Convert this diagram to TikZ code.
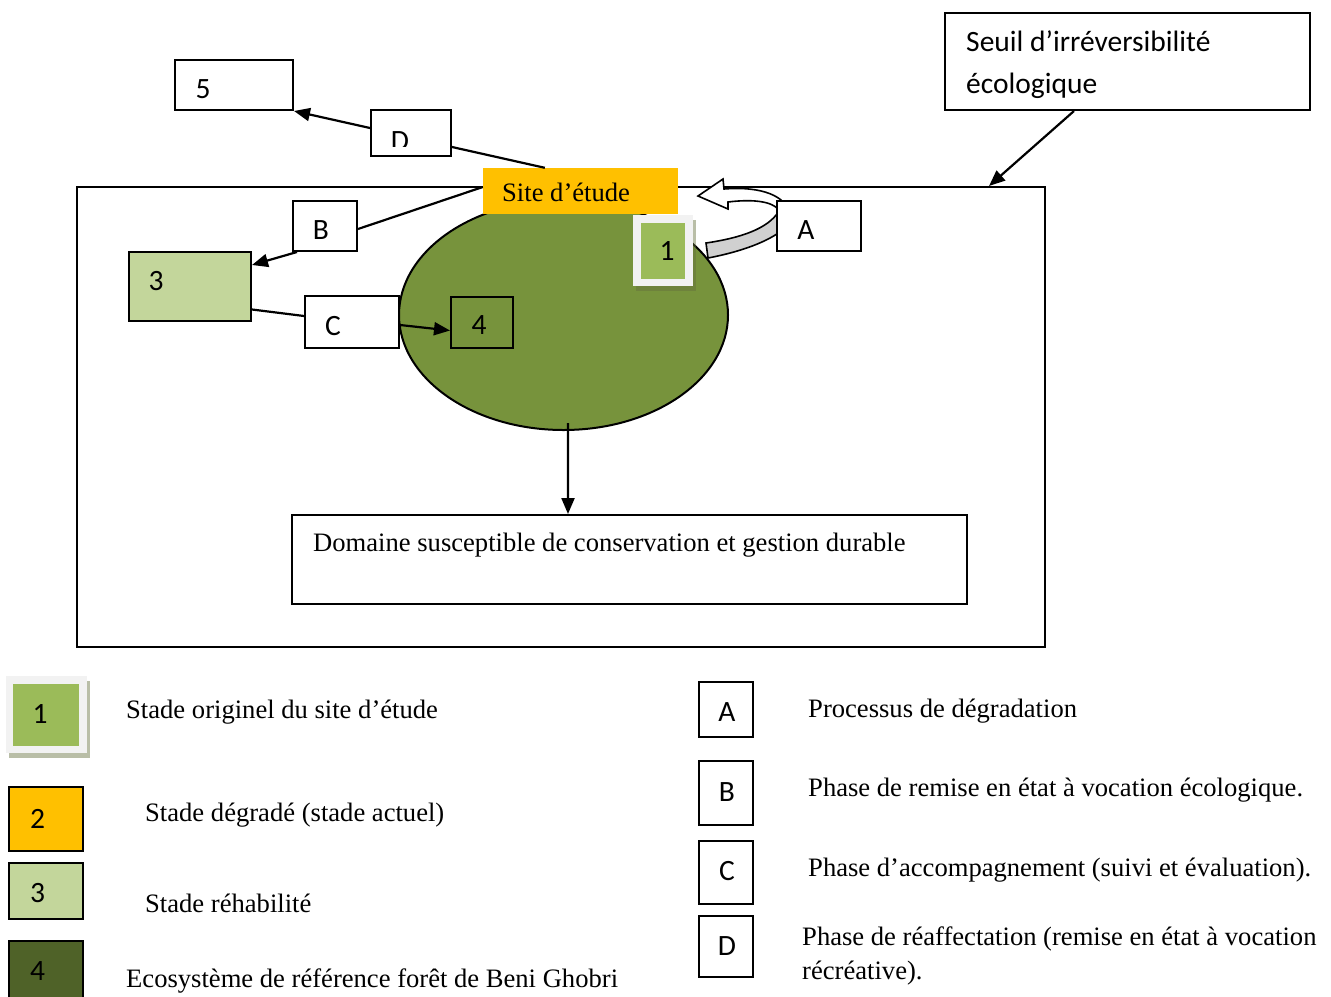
\documentclass[tikz,border=0pt]{standalone}
\usepackage{fontspec}
\setmainfont{Liberation Serif}
\newfontfamily\calfont{Carlito}
\usetikzlibrary{arrows.meta,calc,shapes.geometric}

\definecolor{orangebox}{HTML}{FFC000}
\definecolor{forest}{HTML}{77933C}
\definecolor{palegreen}{HTML}{C3D69B}
\definecolor{leafgreen}{HTML}{9BBB59}
\definecolor{darkforest}{HTML}{4F6228}
\definecolor{framegray}{HTML}{F2F2F2}
\definecolor{bandgray}{HTML}{D0D0D0}
\definecolor{shadowtone}{RGB}{100,110,60}

\tikzset{
  box/.style={draw, line width=2bp, inner sep=0pt, fill=white},
  plainbox/.style={inner sep=0pt, draw=none},
  arr/.style={line width=2.2bp, -{Triangle[length=16bp,width=13bp]}},
  link/.style={line width=2.2bp},
  tms/.style={font=\fontsize{26.6bp}{34bp}\selectfont, inner sep=0pt, anchor=base west},
  cal/.style={font=\calfont\fontsize{29.5bp}{42bp}\selectfont, inner sep=0pt},
}

\begin{document}
\begin{tikzpicture}[x=1bp,y=-1bp]
\useasboundingbox (0,0) rectangle (1331,996);

% outer domain frame
\node[draw, line width=2bp, minimum width=968bp, minimum height=460bp, inner sep=0pt] (frame) at (561,417) {};

% threshold box
\node[box, minimum width=365bp, minimum height=97bp] (seuil) at (1127.5,61.5) {};
\node[cal, anchor=base west] (seuilA) at (966,51) {Seuil d’irréversibilité};
\node[cal, anchor=base west] (seuilB) at (966,93) {écologique};
\draw[arr] ($(seuil.south west)+(130,0)$) -- ($(frame.north east)+(-57,0)$);

% study site ellipse
\node[draw, line width=2bp, fill=forest, ellipse, minimum width=329bp, minimum height=230bp, inner sep=0pt] (ell) at (563.5,315) {};

% current degraded site
\node[plainbox, fill=orangebox, minimum width=195bp, minimum height=46bp] (site) at (580.5,191) {};
\node[tms] (sitetxt) at (502,201) {Site d’étude};

% reallocation branch
\node[box, minimum width=118bp, minimum height=50bp] (five) at (234,85) {};
\node[cal] (fivetxt) at (203,89) {5};
\node[box, minimum width=80bp, minimum height=46bp] (dbox) at (411,133) {};
\begin{scope}
  \clip (371,110) rectangle (451,146);
  \node[cal] (dtxt) at (400,141) {D};
\end{scope}
\draw[link] ($(site.north west)+(62,0)$) -- ($(dbox.east)+(0,14)$);
\draw[arr] ($(dbox.west)+(0,-5)$) -- (five.south east);

% ecological restoration branch
\node[box, minimum width=64bp, minimum height=50bp] (bbox) at (325,226) {};
\node[cal] (btxt) at (321,230) {B};
\node[draw, line width=2bp, fill=palegreen, minimum width=122bp, minimum height=69bp, inner sep=0pt] (three) at (190,286.5) {};
\node[cal] (threetxt) at (156,281) {3};
\draw[link] ($(site.west)+(0,-4)$) -- ($(bbox.east)+(0,3)$);
\draw[arr] ($(bbox.south west)+(5,0)$) -- ($(three.north east)+(0,14)$);

% follow-up branch
\node[box, minimum width=94bp, minimum height=52bp] (cbox) at (352,322) {};
\node[cal] (ctxt) at (333,326) {C};
\node[draw, line width=2bp, fill=forest, minimum width=62bp, minimum height=51bp, inner sep=0pt] (four) at (482,322.5) {};
\node[cal] (fourtxt) at (479,325) {4};
\draw[link] ($(three.east)+(0,23)$) -- ($(cbox.west)+(0,-6)$);
\draw[arr] ($(cbox.east)+(0,3)$) -- ($(four.west)+(0,8)$);

% original stage tile
\fill[shadowtone, opacity=0.45] (636,220) rectangle (696,291);
\node[plainbox, fill=framegray, minimum width=60bp, minimum height=71bp] (oneframe) at (663,250.5) {};
\node[plainbox, fill=leafgreen, minimum width=44bp, minimum height=56bp] (one) at (663,251) {};
\node[cal] (onetxt) at (667,251) {1};

% degradation curved arrow
\filldraw[fill=white, line width=1.6bp, line join=miter]
  (790,214) .. controls (786,196) and (762,186) .. (724,189)
  -- (723,179) -- (698,196) -- (728,209) -- (728,202)
  .. controls (752,199) and (772,201) .. (779,210) -- cycle;
\filldraw[fill=bandgray, line width=1.6bp]
  (779,211) .. controls (768,229) and (740,238) .. (706,243)
  -- (708,258) .. controls (745,251) and (780,238) .. (792,220) -- cycle;
\node[box, minimum width=84bp, minimum height=50bp] (abox) at (819,226) {};
\node[cal] (atxt) at (806,230) {A};

% sustainable management domain
\node[box, minimum width=675bp, minimum height=89bp] (domaine) at (629.5,559.5) {};
\node[tms] (domtxt) at (313,551) {Domaine susceptible de conservation et gestion durable};
\draw[arr] ($(ell.south)+(4.5,-8)$) -- ($(domaine.north)+(-61.5,0)$);

% legend: stages
\fill[shadowtone, opacity=0.45] (9,681) rectangle (90,758);
\node[plainbox, fill=framegray, minimum width=81bp, minimum height=77bp] (lone) at (46.5,714.5) {};
\node[plainbox, fill=leafgreen, minimum width=66bp, minimum height=62bp] (loneinner) at (46,715) {};
\node[cal] (lonetxt) at (40,714) {1};
\node[tms] (lonelab) at (126,718) {Stade originel du site d’étude};

\node[draw, line width=2bp, fill=orangebox, minimum width=74bp, minimum height=64bp, inner sep=0pt] (ltwo) at (46,819) {};
\node[cal] (ltwotxt) at (37.5,819) {2};
\node[tms] (ltwolab) at (145,821) {Stade dégradé (stade actuel)};

\node[draw, line width=2bp, fill=palegreen, minimum width=74bp, minimum height=56bp, inner sep=0pt] (lthree) at (46,891) {};
\node[cal] (lthreetxt) at (37.5,893) {3};
\node[tms] (lthreelab) at (145,912) {Stade réhabilité};

\node[draw, line width=2bp, fill=darkforest, minimum width=74bp, minimum height=70bp, inner sep=0pt] (lfour) at (46,976) {};
\node[cal] (lfourtxt) at (37.5,971) {4};
\node[tms] (lfourlab) at (126,987) {Ecosystème de référence forêt de Beni Ghobri};

% legend: processes and phases
\node[box, minimum width=54bp, minimum height=55bp] (la) at (726,709.5) {};
\node[cal] (latxt) at (727,712) {A};
\node[tms] (lalab) at (808,717) {Processus de dégradation};

\node[box, minimum width=54bp, minimum height=64bp] (lb) at (726,793) {};
\node[cal] (lbtxt) at (727,792) {B};
\node[tms] (lblab) at (808,796) {Phase de remise en état à vocation écologique.};

\node[box, minimum width=54bp, minimum height=63bp] (lc) at (726,872.5) {};
\node[cal] (lctxt) at (727,871) {C};
\node[tms] (lclab) at (808,876) {Phase d’accompagnement (suivi et évaluation).};

\node[box, minimum width=54bp, minimum height=61bp] (ld) at (726,946.5) {};
\node[cal] (ldtxt) at (727,946) {D};
\node[tms] (ldlabA) at (802,945) {Phase de réaffectation (remise en état à vocation};
\node[tms] (ldlabB) at (802,979) {récréative).};
\end{tikzpicture}
\end{document}
